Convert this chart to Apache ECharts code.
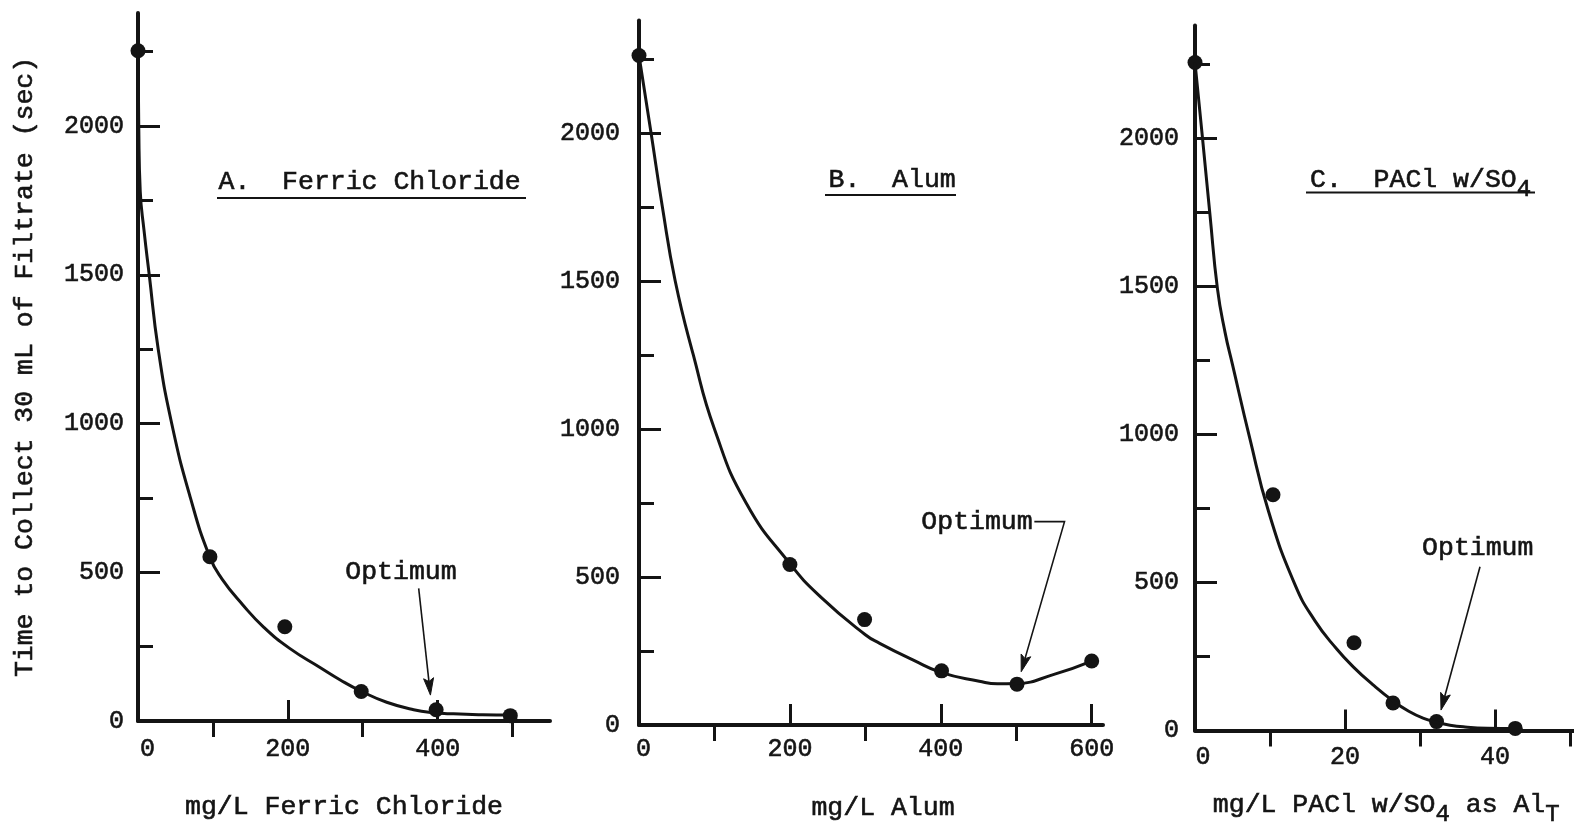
<!DOCTYPE html>
<html>
<head>
<meta charset="utf-8">
<title>Filtration time vs coagulant dose</title>
<script src="https://cdn.jsdelivr.net/npm/echarts@6.0.0/dist/echarts.min.js"></script>
<style>
  html, body { margin: 0; padding: 0; background: #ffffff; }
  #chart { width: 1574px; height: 827px; }
</style>
</head>
<body>
<div id="chart"></div>
<script>
// ---- Time to collect 30 mL of filtrate (sec) against coagulant dose ----

// A. Ferric chloride, mg/L
const ferricDose = [0, 96, 196, 298, 398, 497];
const ferricTime = [2253, 552, 317, 99, 38, 18];
const ferricCurveDose = [0, 1, 3, 8, 15, 27, 45, 70, 96, 112, 140, 168, 202, 243, 270, 298, 332, 368, 395, 421, 460, 497];
const ferricCurveTime = [2253, 2000, 1780, 1650, 1500, 1250, 1000, 750, 550, 478, 390, 315, 245, 180, 138, 100, 63, 38, 28, 24, 21, 20];

// B. Alum, mg/L
const alumDose = [0, 200, 299, 401, 501, 600];
const alumTime = [2262, 542, 356, 183, 138, 216];
const alumCurveDose = [0, 16, 31, 48, 72, 100, 142, 200, 241, 300, 319, 363, 400, 451, 475, 500, 549, 600];
const alumCurveTime = [2262, 2000, 1750, 1500, 1250, 1000, 750, 545, 432, 305, 276, 220, 178, 148, 139, 140, 170, 216];

// C. PACl with sulfate, mg/L as total Al
const paclDose = [0, 10.4, 21.2, 26.4, 32.2, 42.7];
const paclTime = [2255, 796, 296, 93, 30, 7];
const paclCurveDose = [0, 1, 2, 3, 4, 5, 7.3, 9.8, 13.3, 16, 18.9, 21.1, 23.7, 26.4, 28.5, 30.4, 32.2, 34, 36, 39, 42.7];
const paclCurveTime = [2255, 2000, 1740, 1490, 1345, 1235, 987, 740, 494, 370, 275, 215, 155, 100, 65, 42, 28, 18, 12, 8, 7];

// tick values
const timeLabelTicks = [0, 500, 1000, 1500, 2000];
const timeMinorTicks = [250, 750, 1250, 1750, 2250];
const ferricLabelTicks = [0, 200, 400];
const ferricLongTicks = [200, 400];
const ferricShortTicks = [100, 300, 500];
const alumLabelTicks = [0, 200, 400, 600];
const alumLongTicks = [200, 400, 600];
const alumShortTicks = [100, 300, 500];
const paclLabelTicks = [0, 20, 40];
const paclLongTicks = [20, 40];
const paclShortTicks = [10, 30, 50];

// ---- styling ----
const FONT = '"Liberation Mono", "Cousine", "Courier New", monospace';
const INK = '#141414';
const TIME_MAX = 2380;
const INK_EDGE = 0.6;   // slight stroke so the typewriter text reads darker

const panels = [
  { dose: ferricDose, time: ferricTime, curveDose: ferricCurveDose, curveTime: ferricCurveTime,
    labels: ferricLabelTicks, longTicks: ferricLongTicks, shortTicks: ferricShortTicks,
    xName: 'mg/L Ferric Chloride' },
  { dose: alumDose, time: alumTime, curveDose: alumCurveDose, curveTime: alumCurveTime,
    labels: alumLabelTicks, longTicks: alumLongTicks, shortTicks: alumShortTicks,
    xName: 'mg/L Alum' },
  { dose: paclDose, time: paclTime, curveDose: paclCurveDose, curveTime: paclCurveTime,
    labels: paclLabelTicks, longTicks: paclLongTicks, shortTicks: paclShortTicks,
    xName: '{t|mg/L PACl w/SO}{s|4}{t| as Al}{s|T}' }
];

const frames = [
  { left: 138, top: 13, width: 412, height: 708, xMax: 550, yLabelMargin: 14, yLabelLift: 0, xLabelMargin: 16, zeroNudge: 19, xNameGap: 72, xNamePad: 0 },
  { left: 639, top: 20.5, width: 464, height: 704.5, xMax: 615, yLabelMargin: 19, yLabelLift: 12, xLabelMargin: 12, zeroNudge: 9, xNameGap: 69, xNamePad: 24 },
  { left: 1195, top: 25.5, width: 382.5, height: 705, xMax: 51, yLabelMargin: 16, yLabelLift: 20, xLabelMargin: 14, zeroNudge: 16, xNameGap: 52, xNamePad: 0 }
];

const typeStyle = { fontFamily: FONT, color: INK, textBorderColor: INK, textBorderWidth: INK_EDGE };

const subRich = {
  t: Object.assign({ fontSize: 26.5, lineHeight: 44, verticalAlign: 'middle' }, typeStyle),
  s: Object.assign({ fontSize: 24, lineHeight: 20, verticalAlign: 'bottom' }, typeStyle)
};

const zip = (a, b) => a.map((v, i) => [v, b[i]]);
const plain = v => String(v);

const grid = [], xAxis = [], yAxis = [], series = [];

panels.forEach((p, i) => {
  const f = frames[i];
  grid.push({ left: f.left, top: f.top, width: f.width, height: f.height,
              containLabel: false, outerBoundsMode: 'none' });

  // main x axis: line, long ticks, labels, name
  xAxis.push({
    type: 'value', gridIndex: i, min: 0, max: f.xMax,
    axisLine: { show: true, onZero: false, lineStyle: { color: INK, width: 4 } },
    axisTick: { show: true, inside: true, length: 21, customValues: p.longTicks,
                lineStyle: { color: INK, width: 3 } },
    axisLabel: Object.assign({ show: true, customValues: p.labels, margin: f.xLabelMargin,
                 fontSize: 25,
                 formatter: v => (v === 0 ? '{z|0}' : String(v)),
                 rich: { z: Object.assign({ fontSize: 25, padding: [0, 0, 0, f.zeroNudge] }, typeStyle) }
               }, typeStyle),
    splitLine: { show: false },
    name: p.xName, nameLocation: 'middle', nameGap: f.xNameGap,
    nameTextStyle: Object.assign({ fontSize: 26.5, padding: [0, 0, 0, f.xNamePad], rich: subRich }, typeStyle)
  });
  // companion x axis carrying the shorter ticks
  xAxis.push({
    type: 'value', gridIndex: i, min: 0, max: f.xMax,
    axisLine: { show: false }, axisLabel: { show: false }, splitLine: { show: false },
    axisTick: { show: true, inside: true, length: 16, customValues: p.shortTicks,
                lineStyle: { color: INK, width: 3 } }
  });

  const yMain = {
    type: 'value', gridIndex: i, min: 0, max: TIME_MAX, position: 'left',
    axisLine: { show: true, onZero: false, lineStyle: { color: INK, width: 4 } },
    axisTick: { show: true, inside: true, length: 22, customValues: timeLabelTicks,
                lineStyle: { color: INK, width: 3 } },
    axisLabel: Object.assign({ show: true, customValues: timeLabelTicks, margin: f.yLabelMargin,
                 fontSize: 25, formatter: plain, padding: [0, 0, f.yLabelLift, 0] }, typeStyle),
    splitLine: { show: false }
  };
  if (i === 0) {
    yMain.name = 'Time to Collect 30 mL of Filtrate (sec)';
    yMain.nameLocation = 'middle';
    yMain.nameGap = 100;
    yMain.nameTextStyle = Object.assign({ fontSize: 26.5 }, typeStyle);
  }
  yAxis.push(yMain);
  yAxis.push({
    type: 'value', gridIndex: i, min: 0, max: TIME_MAX, position: 'left',
    axisLine: { show: false }, axisLabel: { show: false }, splitLine: { show: false },
    axisTick: { show: true, inside: true, length: 15, customValues: timeMinorTicks,
                lineStyle: { color: INK, width: 3 } }
  });

  // hand-fitted trend curve
  series.push({
    type: 'line', xAxisIndex: 2 * i, yAxisIndex: 2 * i,
    data: zip(p.curveDose, p.curveTime),
    showSymbol: false, symbol: 'none', smooth: 0.5,
    clip: false, silent: true,
    lineStyle: { color: INK, width: 3, opacity: 1 }
  });
  // measured points
  series.push({
    type: 'scatter', xAxisIndex: 2 * i, yAxisIndex: 2 * i,
    data: zip(p.dose, p.time),
    symbol: 'circle', symbolSize: 15, clip: false, silent: true,
    itemStyle: { color: INK, opacity: 1 }
  });
});

const chart = echarts.init(document.getElementById('chart'), null, { renderer: 'canvas' });
chart.setOption({
  backgroundColor: '#ffffff',
  animation: false,
  grid, xAxis, yAxis, series
});

// ---- panel headings (underlined) and "Optimum" call-outs ----
const headings = [
  { text: 'A.  Ferric Chloride', x: 218.5, y: 182, rule: [217, 526, 198] },
  { text: 'B.  Alum', x: 828.5, y: 179.5, rule: [825, 956, 195] },
  { text: '{t|C.  PACl w/SO}{s|4}', x: 1310, y: 180, rule: [1306, 1535, 192.5] }
];

// call-out anchors in each panel's own data units
const callouts = [
  { panel: 0, label: [351, 502], path: [[374.7, 446], [390.4, 87]] },
  { panel: 1, label: [448, 687], path: [[524, 687], [564, 687], [506.6, 180]] },
  { panel: 2, label: [37.7, 615], path: [[38, 553], [32.8, 69]] }
];

const graphics = [];
const gText = { fontFamily: FONT, fill: INK, stroke: INK, lineWidth: INK_EDGE };
const headRich = {
  t: Object.assign({ fontSize: 26.5, lineHeight: 44, verticalAlign: 'middle' }, gText),
  s: Object.assign({ fontSize: 24, lineHeight: 24, verticalAlign: 'bottom' }, gText)
};
headings.forEach(h => {
  graphics.push({
    type: 'text', x: h.x, y: h.y, silent: true,
    style: Object.assign({ text: h.text, fontSize: 26.5, align: 'left', verticalAlign: 'middle', rich: headRich }, gText)
  });
  graphics.push({
    type: 'line', silent: true,
    shape: { x1: h.rule[0], y1: h.rule[2], x2: h.rule[1], y2: h.rule[2] },
    style: { stroke: INK, lineWidth: 2 }
  });
});

const toPx = (panel, pt) => chart.convertToPixel({ xAxisIndex: 2 * panel, yAxisIndex: 2 * panel }, pt);

callouts.forEach(c => {
  const lp = toPx(c.panel, c.label);
  graphics.push({
    type: 'text', x: lp[0], y: lp[1], silent: true,
    style: Object.assign({ text: 'Optimum', fontSize: 26.5, align: 'center', verticalAlign: 'middle' }, gText)
  });
  const pts = c.path.map(pt => toPx(c.panel, pt));
  const tip = pts[pts.length - 1];
  const prev = pts[pts.length - 2];
  const dx = tip[0] - prev[0], dy = tip[1] - prev[1];
  const d = Math.hypot(dx, dy);
  const ux = dx / d, uy = dy / d;
  const len = 17, half = 5;
  const base = [tip[0] - ux * len, tip[1] - uy * len];
  const notch = [tip[0] - ux * len * 0.8, tip[1] - uy * len * 0.8];
  const shaft = pts.slice(0, -1).concat([notch]);
  graphics.push({
    type: 'polyline', silent: true,
    shape: { points: shaft },
    style: { stroke: INK, lineWidth: 1.6, fill: null }
  });
  graphics.push({
    type: 'polygon', silent: true,
    shape: { points: [tip, [base[0] - uy * half, base[1] + ux * half], notch, [base[0] + uy * half, base[1] - ux * half]] },
    style: { fill: INK, stroke: INK, lineWidth: 1 }
  });
});

chart.setOption({ graphic: graphics });
</script>
</body>
</html>
